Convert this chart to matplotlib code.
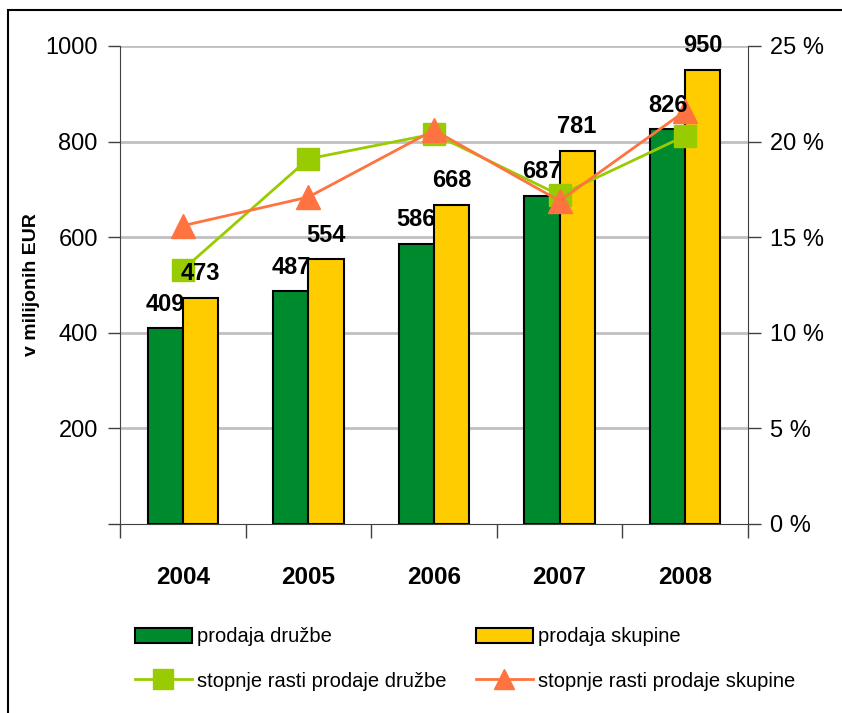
import numpy as np
import matplotlib
matplotlib.use('Agg')
import matplotlib.pyplot as plt
import matplotlib.patches as mpatches
from matplotlib.lines import Line2D

plt.rcParams['font.family'] = ['Liberation Sans', 'DejaVu Sans']

# data
years = ['2004', '2005', '2006', '2007', '2008']
prodaja_druzbe = [409, 487, 586, 687, 826]
prodaja_skupine = [473, 554, 668, 781, 950]
rast_druzbe = [13.3, 19.1, 20.4, 17.2, 20.3]      # %
rast_skupine = [15.6, 17.1, 20.6, 16.9, 21.6]     # %

c_green = '#008A2E'
c_yellow = '#FFCC00'
c_line_green = '#99CC00'
c_line_orange = '#FF7340'

fig = plt.figure(figsize=(8.42, 7.13), dpi=100)
ax = fig.add_axes([120/842, 1-524/713, 628/842, 478/713])

x = np.arange(len(years))
w = 0.28

ax.bar(x - w/2, prodaja_druzbe, w, color=c_green, edgecolor='black', linewidth=1.5, zorder=3)
ax.bar(x + w/2, prodaja_skupine, w, color=c_yellow, edgecolor='black', linewidth=1.5, zorder=3)

ax.set_xlim(-0.5, len(years) - 0.5)
ax.set_ylim(0, 1000)
ax.set_yticks([200, 400, 600, 800, 1000])
ax.yaxis.grid(True, color='#C0C0C0', linewidth=2, zorder=0)
ax.set_axisbelow(True)

ax.set_xticks(x)
ax.set_xticklabels(years, fontsize=17.5, fontweight='bold')
ax.set_xticks(np.arange(-0.5, len(years)), minor=True)
ax.tick_params(axis='x', which='major', length=0, pad=30)
ax.tick_params(axis='x', which='minor', length=10, width=1, color='#404040', direction='out')
ax.tick_params(axis='y', length=9, width=1, color='#404040', labelsize=17, pad=7)
# extra tick at 0 on the left axis
ax.set_yticks([0], minor=True)
ax.tick_params(axis='y', which='minor', length=9, width=1, color='#404040')

for s in ['top', 'right']:
    ax.spines[s].set_visible(False)
ax.spines['left'].set_color('#404040')
ax.spines['bottom'].set_color('#404040')

ax.set_ylabel('v milijonih EUR', fontsize=14, fontweight='bold')
ax.yaxis.set_label_coords((40 - 120) / 628, 0.5)

ax2 = ax.twinx()
ax2.set_ylim(0, 25)
ax2.set_yticks([0, 5, 10, 15, 20, 25])
ax2.set_yticklabels([f'{v} %' for v in [0, 5, 10, 15, 20, 25]])
ax2.tick_params(axis='y', length=9, width=1, color='#404040', labelsize=17, pad=7)
for s in ['top', 'left', 'bottom']:
    ax2.spines[s].set_visible(False)
ax2.spines['right'].set_color('#404040')

ax2.plot(x, rast_druzbe, color=c_line_green, linewidth=2, marker='s', markersize=16,
         markerfacecolor=c_line_green, markeredgecolor=c_line_green, zorder=4)
ax2.plot(x, rast_skupine, color=c_line_orange, linewidth=2, marker='^', markersize=17,
         markerfacecolor=c_line_orange, markeredgecolor=c_line_orange, zorder=5)

# value labels above bars (drawn on top axes so they sit above the lines)
for i in range(len(years)):
    ax2.annotate(str(prodaja_druzbe[i]), xy=(x[i] - w/2, prodaja_druzbe[i]), xycoords=ax.transData,
                 xytext=(0, 9), textcoords='offset points', ha='center', va='bottom',
                 fontsize=17, fontweight='bold', zorder=6)
    ax2.annotate(str(prodaja_skupine[i]), xy=(x[i] + w/2, prodaja_skupine[i]), xycoords=ax.transData,
                 xytext=(0, 9), textcoords='offset points', ha='center', va='bottom',
                 fontsize=17, fontweight='bold', zorder=6)

handles = [
    mpatches.Patch(facecolor=c_green, edgecolor='black', linewidth=1.5),
    Line2D([], [], color=c_line_green, linewidth=2, marker='s', markersize=14),
    mpatches.Patch(facecolor=c_yellow, edgecolor='black', linewidth=1.5),
    Line2D([], [], color=c_line_orange, linewidth=2, marker='^', markersize=15),
]
labels = ['prodaja družbe', 'stopnje rasti prodaje družbe',
          'prodaja skupine', 'stopnje rasti prodaje skupine']
fig.legend(handles, labels, ncol=2, loc='center left', bbox_to_anchor=(117/842, 1-659/713),
           frameon=False, fontsize=14.5, handlelength=2.8, handleheight=0.8,
           handletextpad=0.25, columnspacing=1.5, labelspacing=1.25)

# outer frame
fig.patches.append(mpatches.Rectangle((8/842, -0.1), 1.2, 1.1 - 10/713, transform=fig.transFigure,
                                      fill=False, edgecolor='black', linewidth=1.5))

fig.savefig('out.png', dpi=100)
